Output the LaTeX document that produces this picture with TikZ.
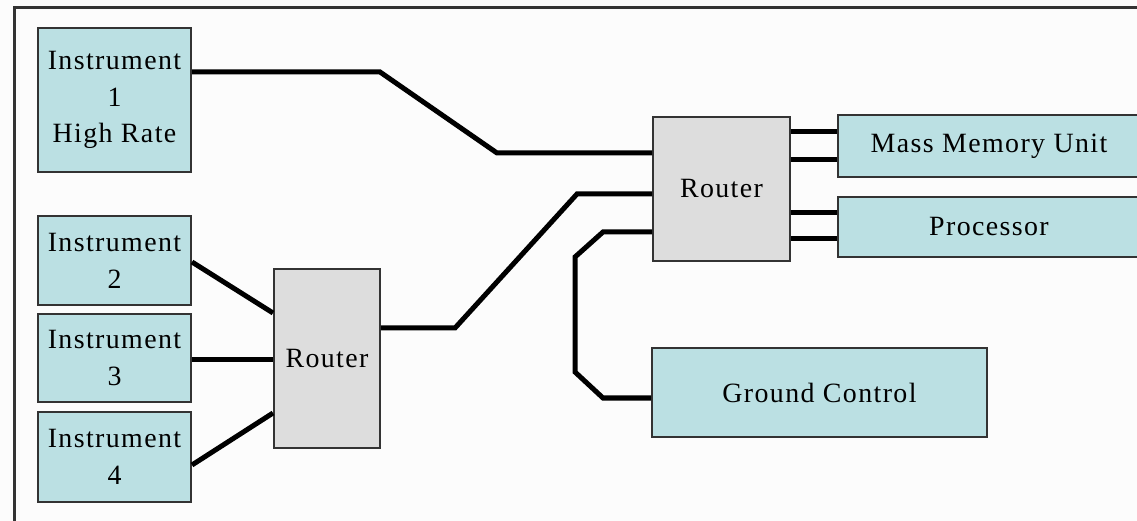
\documentclass[tikz,border=0pt]{standalone}
\usepackage{fontspec}
\setmainfont{Liberation Serif}[LetterSpace=5]
\definecolor{boxblue}{HTML}{BBE0E3}
\definecolor{routergray}{HTML}{DDDDDD}
\definecolor{edgegray}{HTML}{333333}
\definecolor{paper}{HTML}{FCFCFC}
\tikzset{
  unit/.style={draw=edgegray, line width=2bp, fill=boxblue, align=center,
    inner sep=0pt, font=\fontsize{28}{37}\selectfont},
  router/.style={unit, fill=routergray},
  wire/.style={line width=5bp, black},
}
\begin{document}
\begin{tikzpicture}[x=1bp, y=-1bp]
  % page and frame
  \clip (0,0) rectangle (1137,521);
  \fill[paper] (0,0) rectangle (1137,521);
  \draw[edgegray, line width=3bp] (14,600) -- (14,8) -- (1200,8);

  % instruments
  \node[unit, minimum width=153bp, minimum height=144bp] (i1) at (114.5,100) {Instrument\\1\\High Rate};
  \node[unit, minimum width=153bp, minimum height=89bp] (i2) at (114.5,260.5) {Instrument\\2};
  \node[unit, minimum width=153bp, minimum height=88bp] (i3) at (114.5,358) {Instrument\\3};
  \node[unit, minimum width=153bp, minimum height=90bp] (i4) at (114.5,457) {Instrument\\4};

  % routers
  \node[router, minimum width=106bp, minimum height=179bp] (r1) at (327,358.5) {Router};
  \node[router, minimum width=137bp, minimum height=144bp] (r2) at (721.5,189) {Router};

  % destinations
  \node[unit, minimum width=302bp, minimum height=62bp] (mmu) at (989,146) {Mass Memory Unit};
  \node[unit, minimum width=302bp, minimum height=60bp] (proc) at (989,227) {Processor};
  \node[unit, minimum width=335bp, minimum height=89bp] (gc) at (819.5,392.5) {Ground Control};

  % links into the first router
  \draw[wire] (i2.east |- 0,262) -- (r1.west |- 0,313);
  \draw[wire] (i3.east |- 0,360) -- (r1.west |- 0,360);
  \draw[wire] (i4.east |- 0,465) -- (r1.west |- 0,413);

  % links into the main router
  \draw[wire] (i1.east |- 0,72) -- (380,72) -- (497,153) -- (r2.west |- 0,153);
  \draw[wire] (r1.east |- 0,328) -- (455,328) -- (577,194) -- (r2.west |- 0,194);
  \draw[wire] (r2.west |- 0,232) -- (603,232) -- (575,257) -- (575,372) -- (603,398) -- (gc.west |- 0,398);

  % links out of the main router
  \draw[wire] (r2.east |- 0,132) -- (mmu.west |- 0,132);
  \draw[wire] (r2.east |- 0,160) -- (mmu.west |- 0,160);
  \draw[wire] (r2.east |- 0,213) -- (proc.west |- 0,213);
  \draw[wire] (r2.east |- 0,239) -- (proc.west |- 0,239);
\end{tikzpicture}
\end{document}
